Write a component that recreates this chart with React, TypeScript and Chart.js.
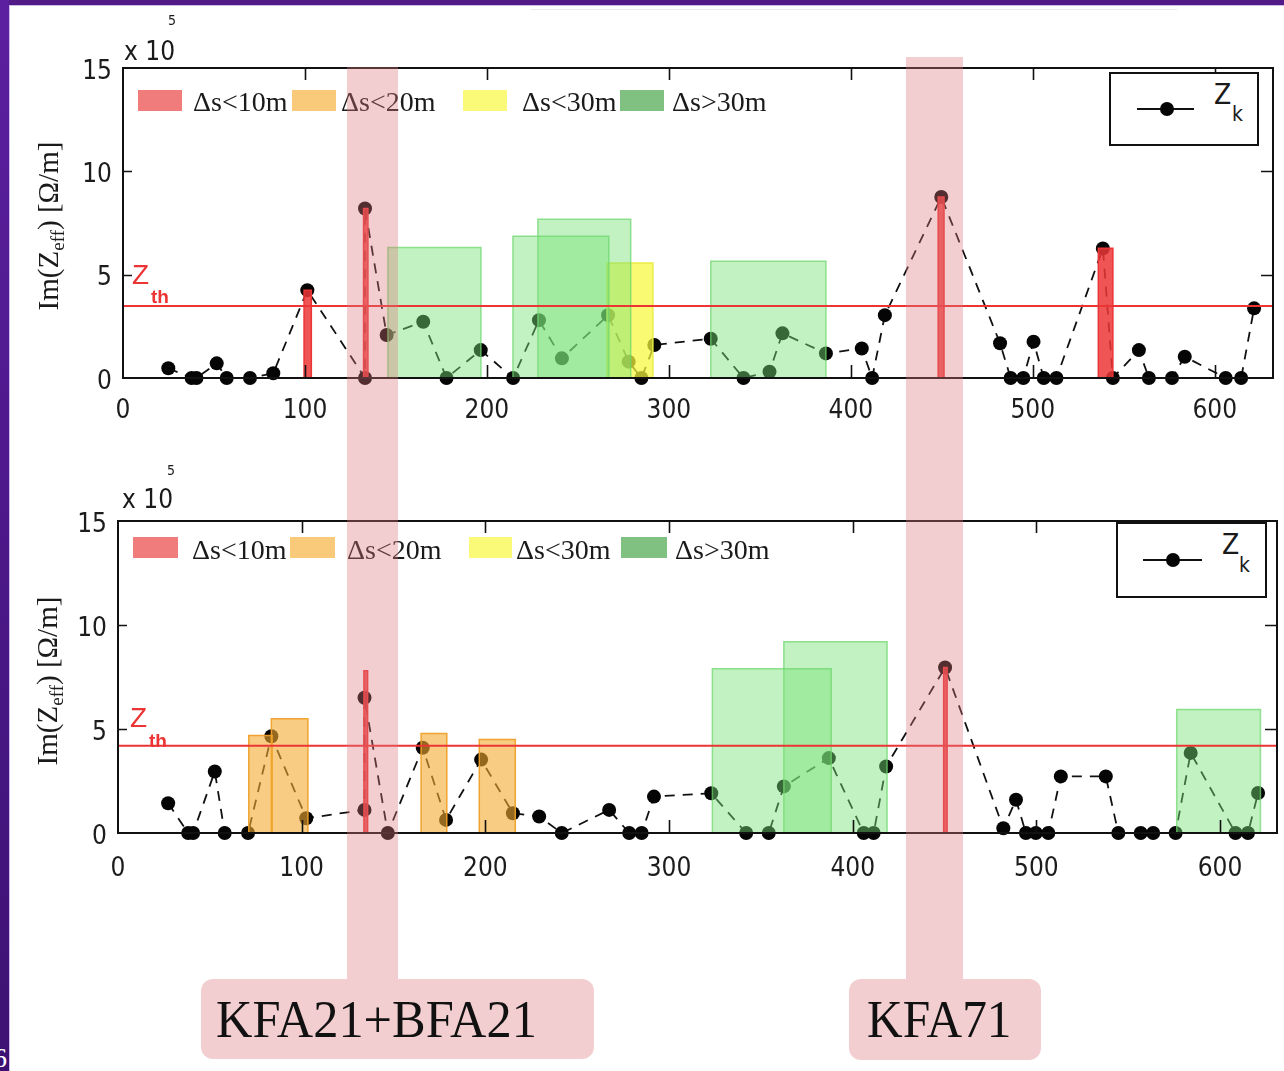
import React, { useEffect, useRef } from "react";
import { Chart, registerables } from "chart.js";
Chart.register(...registerables);

// ---------------- data ----------------
// upper panel: Z_k points (position s [m], Im(Zeff) [x1e5 Ohm/m])
const topZkS = [24.9, 37.7, 40.4, 51.5, 57.0, 69.8, 82.6, 101.3, 133.0, 133.0, 144.9, 165.0, 177.8, 196.6, 214.4, 228.6, 241.2, 266.6, 277.9, 284.9, 292.0, 323.0, 341.0, 355.3, 362.4, 386.3, 406.0, 411.7, 418.7, 449.7, 482.0, 487.8, 494.8, 500.4, 506.0, 513.0, 538.5, 544.0, 558.3, 563.8, 576.5, 583.5, 606.0, 614.5, 621.6];
const topZkV = [0.47, 0, 0, 0.71, 0, 0, 0.23, 4.25, 0, 8.2, 2.08, 2.72, 0, 1.35, 0, 2.8, 0.95, 3.04, 0.79, 0, 1.6, 1.9, 0, 0.3, 2.16, 1.19, 1.43, 0, 3.04, 8.76, 1.68, 0, 0, 1.76, 0, 0, 6.27, 0, 1.35, 0, 0, 1.03, 0, 0, 3.37];
// boxes: [start s, end s, height]
const topRed = [[99.5, 103.5, 4.25], [132.2, 134.6, 8.2], [448.0, 451.2, 8.76], [536.0, 544.0, 6.28]];
const topOrange: number[][] = [];
const topYellow = [[266.0, 291.2, 5.56]];
const topGreen = [[145.6, 196.7, 6.31], [214.3, 267.0, 6.86], [228.0, 279.0, 7.68], [323.0, 386.3, 5.65]];
const topThreshold = 3.48;

// lower panel
const botZkS = [27.3, 38.2, 40.9, 52.7, 58.1, 70.8, 83.5, 102.5, 134.2, 134.2, 146.9, 165.9, 178.6, 197.7, 215.0, 229.3, 241.6, 267.4, 278.3, 285.1, 291.8, 323.0, 342.0, 354.3, 362.5, 387.0, 406.0, 411.4, 418.2, 450.3, 482.0, 488.9, 494.3, 499.7, 506.5, 513.3, 537.8, 544.6, 556.8, 563.6, 575.8, 584.0, 608.4, 615.2, 620.7];
const botZkV = [1.43, 0, 0, 2.96, 0, 0, 4.65, 0.71, 1.11, 6.5, 0, 4.1, 0.63, 3.53, 0.95, 0.79, 0, 1.11, 0, 0, 1.75, 1.91, 0, 0, 2.24, 3.6, 0, 0, 3.2, 7.96, 0.23, 1.6, 0, 0, 0, 2.72, 2.72, 0, 0, 0, 0, 3.85, 0, 0, 1.92];
const botRed = [[133.9, 135.9, 7.8], [449.5, 451.4, 7.96]];
const botOrange = [[71.2, 83.9, 4.69], [83.5, 103.4, 5.49], [165.0, 179.0, 4.78], [196.7, 216.3, 4.49]];
const botYellow: number[][] = [];
const botGreen = [[323.6, 388.3, 7.9], [362.5, 418.7, 9.19], [576.4, 622.0, 5.94]];
const botThreshold = 4.2;

const xTickValues = [0, 100, 200, 300, 400, 500, 600];
const yTickValues = [0, 5, 10, 15];
const legendLabels = ["Δs<10m", "Δs<20m", "Δs<30m", "Δs>30m"];

// ---------------- styling ----------------
const NARROW = "'Liberation Sans Narrow', 'DejaVu Sans Condensed', 'Arial Narrow', sans-serif";
const SANS = "'Liberation Sans', Arial, sans-serif";
const SERIF = "'Liberation Serif', 'Times New Roman', serif";
const RED = "rgb(236,52,52)";
const PINK = "rgba(222,118,124,0.36)";

function rectPts(b: number[]) {
  const [x0, x1, h] = b;
  return [
    { x: x0, y: 0 },
    { x: x0, y: h },
    { x: x1, y: h },
    { x: x1, y: 0 },
  ];
}

function boxSets(list: number[][], fill: string, stroke: string, order: number, bw: number) {
  return list.map((b) => ({
    data: rectPts(b),
    showLine: true,
    fill: "origin",
    backgroundColor: fill,
    borderColor: stroke,
    borderWidth: bw,
    pointRadius: 0,
    tension: 0,
    order,
  }));
}

const framePlugin = {
  id: "frame",
  afterDatasetsDraw(chart: any) {
    const { ctx, chartArea: a } = chart;
    const xs = chart.scales.x;
    const ys = chart.scales.y;
    ctx.save();
    ctx.strokeStyle = "#111";
    ctx.lineWidth = 1.6;
    ctx.beginPath();
    xTickValues.slice(1).forEach((v) => {
      const px = Math.round(xs.getPixelForValue(v)) + 0.5;
      ctx.moveTo(px, a.bottom);
      ctx.lineTo(px, a.bottom - 13);
      ctx.moveTo(px, a.top);
      ctx.lineTo(px, a.top + 12);
    });
    [5, 10].forEach((v) => {
      const py = Math.round(ys.getPixelForValue(v)) + 0.5;
      ctx.moveTo(a.left, py);
      ctx.lineTo(a.left + 9, py);
      ctx.moveTo(a.right, py);
      ctx.lineTo(a.right - 12, py);
    });
    ctx.stroke();
    ctx.lineWidth = 2;
    ctx.strokeRect(a.left, a.top, a.right - a.left, a.bottom - a.top);
    ctx.restore();
  },
};

type Panel = {
  s: number[];
  v: number[];
  red: number[][];
  orange: number[][];
  yellow: number[][];
  green: number[][];
  threshold: number;
  xMax: number;
  height: number;
  padTop: number;
  padRight: number;
  axisWidth: number;
  axisHeight: number;
  xPad: number;
};

function makeConfig(p: Panel): any {
  const zk = {
    data: p.s.map((x, i) => ({ x, y: p.v[i] })),
    showLine: true,
    borderColor: "#111",
    borderWidth: 1.8,
    borderDash: [10, 8],
    pointRadius: 7,
    pointBackgroundColor: "#050505",
    pointBorderColor: "#050505",
    pointBorderWidth: 0,
    tension: 0,
    clip: false,
    order: 10,
  };
  const thr = {
    data: [
      { x: 0, y: p.threshold },
      { x: p.xMax, y: p.threshold },
    ],
    showLine: true,
    borderColor: RED,
    borderWidth: 2,
    pointRadius: 0,
    order: 2,
  };
  const datasets = [
    zk,
    ...boxSets(p.green, "rgba(120,226,120,0.45)", "rgba(110,215,110,0.75)", 4, 1.5),
    ...boxSets(p.yellow, "rgba(246,246,60,0.72)", "rgba(236,236,70,1)", 4, 1.5),
    ...boxSets(p.orange, "rgba(243,172,48,0.6)", "rgba(240,160,40,0.95)", 4, 1.5),
    thr,
    ...boxSets(p.red, "rgba(236,55,55,0.85)", RED, 1, 1.5),
  ];
  const tickFont = { family: NARROW, size: 26 };
  return {
    type: "scatter",
    data: { datasets },
    plugins: [framePlugin],
    options: {
      animation: false,
      responsive: false,
      events: [],
      layout: { padding: { top: p.padTop, right: p.padRight, left: 0, bottom: 0 } },
      plugins: { legend: { display: false }, tooltip: { enabled: false } },
      scales: {
        x: {
          type: "linear",
          min: 0,
          max: p.xMax,
          grid: { display: false, drawTicks: false },
          border: { display: false },
          ticks: { stepSize: 100, padding: p.xPad, font: tickFont, color: "#1c1c1c" },
          afterBuildTicks: (s: any) => {
            s.ticks = xTickValues.map((value) => ({ value }));
          },
          afterFit: (s: any) => {
            s.height = p.axisHeight;
          },
        },
        y: {
          type: "linear",
          min: 0,
          max: 15,
          grid: { display: false, drawTicks: false },
          border: { display: false },
          ticks: { stepSize: 5, padding: 11, labelOffset: 4, font: tickFont, color: "#1c1c1c" },
          afterBuildTicks: (s: any) => {
            s.ticks = yTickValues.map((value) => ({ value }));
          },
          afterFit: (s: any) => {
            s.width = p.axisWidth;
          },
        },
      },
    },
  };
}

function PanelChart({ top, panel }: { top: number; panel: Panel }) {
  const ref = useRef<HTMLCanvasElement | null>(null);
  useEffect(() => {
    if (!ref.current) return;
    const chart = new Chart(ref.current, makeConfig(panel));
    return () => chart.destroy();
  }, []);
  return (
    <canvas
      ref={ref}
      width={1284}
      height={panel.height}
      style={{ position: "absolute", left: 0, top, width: 1284, height: panel.height }}
    />
  );
}

function T(props: {
  left: number;
  top: number;
  size: number;
  family: string;
  color?: string;
  weight?: any;
  children: React.ReactNode;
}) {
  return (
    <div
      style={{
        position: "absolute",
        left: props.left,
        top: props.top,
        fontSize: props.size,
        fontFamily: props.family,
        color: props.color || "#1a1a1a",
        fontWeight: props.weight || "normal",
        lineHeight: 1,
        whiteSpace: "nowrap",
      }}
    >
      {props.children}
    </div>
  );
}

function Box(props: { left: number; top: number; width: number; height: number; bg: string; extra?: any }) {
  return (
    <div
      style={{
        position: "absolute",
        left: props.left,
        top: props.top,
        width: props.width,
        height: props.height,
        background: props.bg,
        ...(props.extra || {}),
      }}
    />
  );
}

const swatchColors = ["#f07c7c", "#f8ca7a", "#fafa78", "#80c080"];

function DsLegend({ swatchX, swatchW, textX, swatchTop, textTop }: any) {
  return (
    <>
      {legendLabels.map((lab, i) => (
        <React.Fragment key={lab}>
          <Box left={swatchX[i]} top={swatchTop} width={swatchW[i]} height={21} bg={swatchColors[i]} />
          <T left={textX[i]} top={textTop} size={28} family={SERIF}>
            {lab}
          </T>
        </React.Fragment>
      ))}
    </>
  );
}

function ZkLegend({ left, top, width, height, lineX, lineY, lineW, dotX, zX, zTop, kX, kTop }: any) {
  return (
    <>
      <Box
        left={left}
        top={top}
        width={width}
        height={height}
        bg="white"
        extra={{ border: "2px solid #111", boxSizing: "border-box" }}
      />
      <Box left={lineX} top={lineY - 1} width={lineW} height={2} bg="#111" />
      <Box left={dotX - 7} top={lineY - 7} width={14} height={14} bg="#050505" extra={{ borderRadius: "50%" }} />
      <T left={zX} top={zTop} size={28} family={NARROW}>
        Z
      </T>
      <T left={kX} top={kTop} size={21} family={NARROW}>
        k
      </T>
    </>
  );
}

function YTitle({ cx, cy }: { cx: number; cy: number }) {
  const W = 260;
  const H = 36;
  return (
    <div
      style={{
        position: "absolute",
        left: cx - W / 2,
        top: cy - H / 2,
        width: W,
        height: H,
        lineHeight: H + "px",
        textAlign: "center",
        fontFamily: SERIF,
        fontSize: 29,
        color: "#1a1a1a",
        transform: "rotate(-90deg)",
        whiteSpace: "nowrap",
      }}
    >
      Im(Z<span style={{ fontSize: 19, verticalAlign: "-6px" }}>eff</span>) [Ω/m]
    </div>
  );
}

const topPanel: Panel = {
  s: topZkS,
  v: topZkV,
  red: topRed,
  orange: topOrange,
  yellow: topYellow,
  green: topGreen,
  threshold: topThreshold,
  xMax: 632,
  height: 440,
  padTop: 68,
  padRight: 11,
  axisWidth: 123,
  axisHeight: 62,
  xPad: 18,
};

const botPanel: Panel = {
  s: botZkS,
  v: botZkV,
  red: botRed,
  orange: botOrange,
  yellow: botYellow,
  green: botGreen,
  threshold: botThreshold,
  xMax: 631,
  height: 460,
  padTop: 81,
  padRight: 3,
  axisWidth: 118,
  axisHeight: 67,
  xPad: 21,
};

export default function App() {
  return (
    <div
      style={{
        position: "absolute",
        left: 0,
        top: 0,
        width: 1284,
        height: 1071,
        background: "white",
        overflow: "hidden",
      }}
    >
      {/* slide frame */}
      <Box left={0} top={0} width={1284} height={5} bg="#511a86" />
      <Box left={0} top={5} width={1284} height={1} bg="rgba(190,170,230,0.8)" />
      <Box left={0} top={0} width={9} height={1071} bg="linear-gradient(#5c1fa0, #3d1273)" />
      <Box left={9} top={5} width={1} height={1066} bg="rgba(200,180,235,0.9)" />
      <Box left={531} top={9} width={646} height={1} bg="#ececec" />
      <T left={-7} top={1044} size={28} family={SERIF} color="white">
        6
      </T>

      <PanelChart top={0} panel={topPanel} />
      <PanelChart top={440} panel={botPanel} />

      {/* upper panel annotations */}
      <T left={124} top={38} size={26} family={NARROW}>
        x 10
      </T>
      <T left={168} top={13} size={14} family={NARROW}>
        5
      </T>
      <YTitle cx={48} cy={226} />
      <T left={132} top={261} size={28} family={SANS} color={RED}>
        Z
      </T>
      <T left={151} top={287} size={19} family={SANS} color={RED} weight="bold">
        th
      </T>
      <DsLegend
        swatchX={[138, 292, 463, 620]}
        swatchW={[44, 44, 44, 44]}
        textX={[193, 341, 522, 672]}
        swatchTop={90}
        textTop={88}
      />
      <ZkLegend
        left={1109}
        top={72}
        width={150}
        height={74}
        lineX={1137}
        lineY={109}
        lineW={57}
        dotX={1167}
        zX={1214}
        zTop={81}
        kX={1232}
        kTop={104}
      />

      {/* lower panel annotations */}
      <T left={122} top={486} size={26} family={NARROW}>
        x 10
      </T>
      <T left={167} top={463} size={14} family={NARROW}>
        5
      </T>
      <YTitle cx={47} cy={681} />
      <T left={130} top={704} size={28} family={SANS} color={RED}>
        Z
      </T>
      <T left={149} top={731} size={19} family={SANS} color={RED} weight="bold">
        th
      </T>
      <DsLegend
        swatchX={[133, 290, 469, 621]}
        swatchW={[45, 45, 43, 46]}
        textX={[192, 347, 516, 675]}
        swatchTop={537}
        textTop={536}
      />
      <ZkLegend
        left={1116}
        top={522}
        width={151}
        height={76}
        lineX={1143}
        lineY={560}
        lineW={59}
        dotX={1173}
        zX={1222}
        zTop={531}
        kX={1239}
        kTop={555}
      />

      {/* highlighted elements */}
      <Box left={347} top={67} width={51} height={912} bg={PINK} />
      <Box left={906} top={57} width={57} height={922} bg={PINK} />
      <Box left={201} top={979} width={393} height={80} bg={PINK} extra={{ borderRadius: 12 }} />
      <Box left={849} top={979} width={192} height={81} bg={PINK} extra={{ borderRadius: 12 }} />
      <div
        style={{
          position: "absolute",
          left: 216,
          top: 994,
          fontFamily: SERIF,
          fontSize: 52,
          lineHeight: 1,
          color: "#111",
          transform: "scaleX(0.97)",
          transformOrigin: "left center",
          whiteSpace: "nowrap",
        }}
      >
        KFA21+BFA21
      </div>
      <div
        style={{
          position: "absolute",
          left: 867,
          top: 994,
          fontFamily: SERIF,
          fontSize: 52,
          lineHeight: 1,
          color: "#111",
          transform: "scaleX(0.95)",
          transformOrigin: "left center",
          whiteSpace: "nowrap",
        }}
      >
        KFA71
      </div>
    </div>
  );
}
